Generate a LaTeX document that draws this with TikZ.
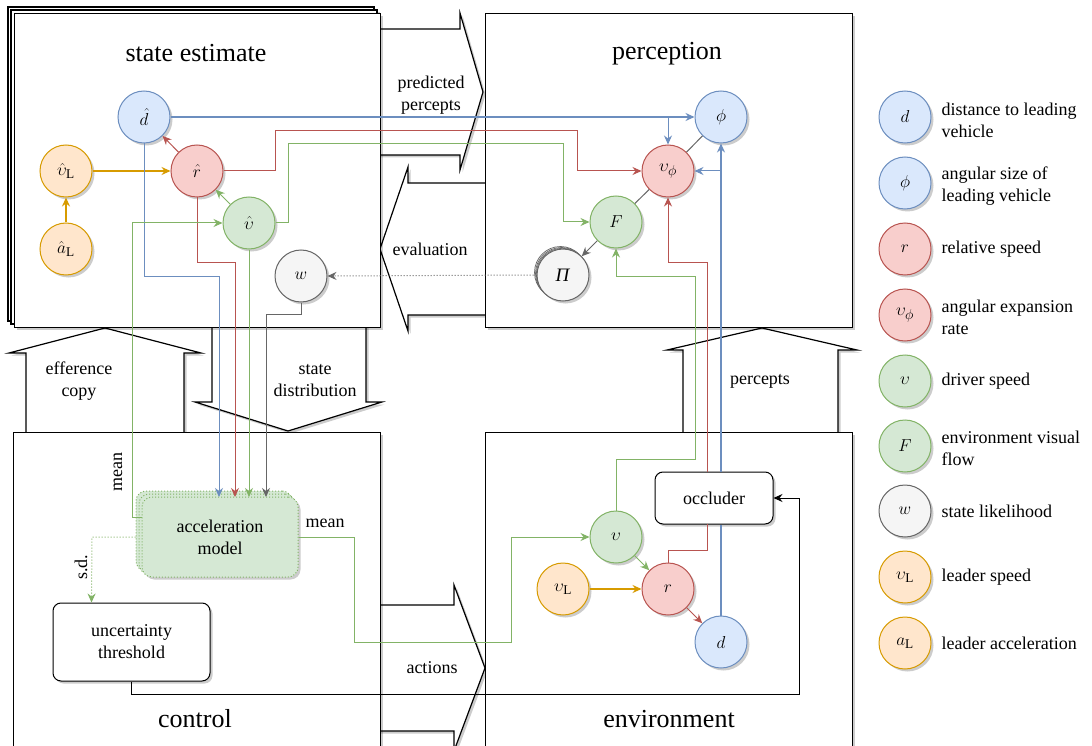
\documentclass[tikz,border=0pt]{standalone}
\usepackage{fontspec}
\setmainfont{Liberation Serif}
\usetikzlibrary{arrows.meta,shadows,calc}
\definecolor{bfill}{HTML}{DAE8FC}\definecolor{bline}{HTML}{6C8EBF}
\definecolor{rfill}{HTML}{F8CECC}\definecolor{rline}{HTML}{B85450}
\definecolor{gfill}{HTML}{D5E8D4}\definecolor{gline}{HTML}{82B366}
\definecolor{wfill}{HTML}{F5F5F5}\definecolor{wline}{HTML}{666666}
\definecolor{ofill}{HTML}{FFE6CC}\definecolor{oline}{HTML}{D79B00}
\begin{document}
\begin{tikzpicture}[x=1pt,y=-1pt,
 shad/.style={drop shadow={shadow xshift=2.5pt,shadow yshift=-2.5pt,fill=black,opacity=0.2}},
 var/.style={circle,minimum size=52pt,inner sep=0pt,line width=1pt,font=\fontsize{19}{22}\selectfont,shad},
 bvar/.style={var,draw=bline,fill=bfill},
 rvar/.style={var,draw=rline,fill=rfill},
 gvar/.style={var,draw=gline,fill=gfill},
 wvar/.style={var,draw=wline,fill=wfill},
 ovar/.style={var,draw=oline,fill=ofill},
 panel/.style={draw=black,fill=white,line width=1.2pt,shad},
 blockarrow/.style={draw=black,fill=white,line width=1.2pt,line join=miter,shad},
 lab/.style={font=\fontsize{18}{22}\selectfont,align=center},
 ttl/.style={font=\fontsize{26}{30}\selectfont},
 arr/.style={-{Stealth[length=9pt,width=8pt,inset=3pt]}},
 bl/.style={draw=bline,line width=1pt},
 rl/.style={draw=rline,line width=1pt},
 gl/.style={draw=gline,line width=1pt},
 kl/.style={draw=wline,line width=1pt},
 bthick/.style={draw=bline,line width=1.7pt},
 othick/.style={draw=oline,line width=2pt},
 rbox/.style={draw=black,fill=white,rounded corners=8pt,line width=1pt,align=center,font=\fontsize{18}{22}\selectfont,inner sep=0pt},
 accbox/.style={draw=gline,fill=gfill,dotted,rounded corners=10pt,line width=1pt,minimum width=156pt,minimum height=80pt,inner sep=0pt}
]
\useasboundingbox (0,0) rectangle (1092,746);
\fill[white] (0,0) rectangle (1092,746);

% block arrows
\draw[blockarrow] (340,29) -- (460,29) -- (460,13) -- (483,92) -- (460,170) -- (460,155) -- (340,155) -- cycle;
\draw[blockarrow] (500,183) -- (408,183) -- (408,167) -- (380,249) -- (408,331) -- (408,315) -- (500,315) -- cycle;
\draw[blockarrow] (26,440) -- (26,353) -- (9,353) -- (105,328) -- (201,353) -- (184,353) -- (184,440) -- cycle;
\draw[blockarrow] (212,320) -- (212,402) -- (195,402) -- (288,431) -- (382,402) -- (366,402) -- (366,320) -- cycle;
\draw[blockarrow] (370,605) -- (454,605) -- (454,585) -- (485,668) -- (454,751) -- (454,731) -- (370,731) -- cycle;
\draw[blockarrow] (683,440) -- (683,350) -- (667,350) -- (762,328) -- (857,350) -- (838,350) -- (838,440) -- cycle;

% panels
\draw[panel] (8,7) rectangle (374,321);
\draw[panel] (11,10) rectangle (377,324);
\node[panel,minimum width=366pt,minimum height=314pt,anchor=north west,inner sep=0pt] (se) at (14,13) {};
\node[panel,minimum width=367pt,minimum height=314pt,anchor=north west,inner sep=0pt] (pe) at (485,13) {};
\node[panel,minimum width=367pt,minimum height=340pt,anchor=north west,inner sep=0pt] (co) at (13,432) {};
\node[panel,minimum width=367pt,minimum height=340pt,anchor=north west,inner sep=0pt] (en) at (485,432) {};

% titles
\node[ttl] (t1) at (196,53) {state estimate};
\node[ttl] (t2) at (667,54) {perception};
\node[ttl] (t3) at (195,719) {control};
\node[ttl] (t4) at (669,719) {environment};

% block arrow labels
\node[lab] (a1) at (431,95) {predicted\\percepts};
\node[lab] (a2) at (430,249) {evaluation};
\node[lab] (a3) at (79,381) {efference\\copy};
\node[lab] (a4) at (315,381) {state\\distribution};
\node[lab] (a5) at (432,668) {actions};
\node[lab] (a6) at (760,381) {percepts};

% state estimate nodes
\node[bvar] (dh) at (144,117) {$\hat{d}$};
\node[ovar] (vLh) at (66,171) {$\hat{\upsilon}_{\mathrm{L}}$};
\node[ovar] (aLh) at (66,249) {$\hat{a}_{\mathrm{L}}$};
\node[rvar] (rh) at (197,171) {$\hat{r}$};
\node[gvar] (vh) at (249,223) {$\hat{\upsilon}$};
\node[wvar] (w) at (301,276) {$w$};

% perception nodes
\node[bvar] (phi) at (721,117) {$\phi$};
\node[rvar] (vphi) at (668,171) {$\upsilon_{\phi}$};
\node[gvar] (F) at (616,222) {$F$};
\draw[draw=wline,fill=wfill,line width=0.7pt] (560.5,272.5) circle (26pt);
\draw[draw=wline,fill=wfill,line width=0.7pt] (561.5,273.5) circle (26pt);
\draw[draw=wline,fill=wfill,line width=0.7pt] (562.3,274.3) circle (26pt);
\node[wvar] (Pi) at (563,275) {\textit{Π}};

% control nodes
\node[accbox] (accb2) at (214,531) {};
\node[accbox] (accb1) at (217,534) {};
\node[accbox,solid,draw=none,shad] (accsh) at (220,537) {};
\node[accbox,lab] (acc) at (220,537) {acceleration\\model};
\node[rbox,minimum width=157pt,minimum height=78pt,shad] (thr) at (131.5,642) {uncertainty\\threshold};

% environment nodes
\node[rbox,minimum width=118pt,minimum height=52pt,shad] (occ) at (714,498) {occluder};
\node[gvar] (v) at (616,537) {$\upsilon$};
\node[ovar] (vL) at (563,589) {$\upsilon_{\mathrm{L}}$};
\node[rvar] (r) at (668,589) {$r$};
\node[bvar] (d) at (721,642) {$d$};

% connectors: state estimate
\draw[othick,arr] (aLh) -- (vLh);
\draw[othick,arr] (vLh) -- (rh);
\draw[rl,arr] (rh) -- (dh);
\draw[gl,arr] (vh) -- (rh);
\draw[bthick,arr] (dh) -- (phi);
\draw[bl,arr] (vphi |- dh) -- (vphi);
\draw[rl,arr] (rh.east) -- (275,171) -- (275,131) -- (577,131) -- (577,171) -- (vphi.west);
\draw[gl,arr] (vh.east) -- (288,223) -- (288,144) -- (563,144) -- (563,222) -- (F.west);
\draw[kl] (phi) -- (vphi);
\draw[kl] (vphi) -- (F);
\draw[kl,arr] (F) -- (Pi);
\draw[kl,dotted,arr] (Pi.west) -- (w.east);

% to acceleration model
\draw[bl,arr] (dh.south) -- (144,276) -- (219,276) -- (219,497);
\draw[rl,arr] (rh.south) -- (197,262) -- (235,262) -- (235,497);
\draw[gl,arr] (vh.south) -- (249,497);
\draw[kl,arr] (w.south) -- (301,314) -- (266,314) -- (266,497);

% from acceleration model
\draw[gl,arr] ($(acc.west)+(0,-20)$) -- (132,517) -- (132,223) -- (vh.west);
\node[lab,rotate=90] (m1) at (118,472) {mean};
\draw[gl,dotted,arr] ($(acc.west)+(-6,0)$) -- (92,537) -- ($(thr.north west)+(39,0)$);
\node[lab,rotate=90] (sd) at (81,567) {s.d.};
\draw[gl,arr] (acc.east) -- (354,537) -- (354,642) -- (511,642) -- (511,537) -- (v.west);
\node[lab] (m2) at (325,523) {mean};
\draw[draw=black,line width=1pt,arr] (thr.south) -- (131.5,694) -- (799,694) -- (799,498) -- (occ.east);

% environment connectors
\draw[othick,arr] (vL) -- (r);
\draw[gl,arr] (v) -- (r);
\draw[rl,arr] (r) -- (d);
\draw[bthick] (d.north) -- (d |- occ.south);
\draw[bthick,arr] (d |- occ.north) -- (phi.south);
\draw[bl,arr] (phi |- vphi) -- (vphi.east);
\draw[rl] (r.north) -- (668,550) -- (707,550) -- (707,524);
\draw[rl,arr] (707,472) -- (707,262) -- (668,262) -- (vphi.south);
\draw[gl,arr] (v.north) -- (616,459) -- (695,459) -- (695,276) -- (616,276) -- (F.south);

% legend
\node[bvar] (l1) at (905,117) {$d$};
\node[lab,align=left,anchor=west] (lt1) at (938,120) {distance to leading\\vehicle};
\node[bvar] (l2) at (905,183) {$\phi$};
\node[lab,align=left,anchor=west] (lt2) at (938,186) {angular size of\\leading vehicle};
\node[rvar] (l3) at (905,249) {$r$};
\node[lab,align=left,anchor=west] (lt3) at (938,249) {relative speed};
\node[rvar] (l4) at (905,315) {$\upsilon_{\phi}$};
\node[lab,align=left,anchor=west] (lt4) at (938,317) {angular expansion\\rate};
\node[gvar] (l5) at (905,381) {$\upsilon$};
\node[lab,align=left,anchor=west] (lt5) at (938,381) {driver speed};
\node[gvar] (l6) at (905,446) {$F$};
\node[lab,align=left,anchor=west] (lt6) at (938,448) {environment visual\\flow};
\node[wvar] (l7) at (905,511) {$w$};
\node[lab,align=left,anchor=west] (lt7) at (938,511) {state likelihood};
\node[ovar] (l8) at (905,577) {$\upsilon_{\mathrm{L}}$};
\node[lab,align=left,anchor=west] (lt8) at (938,577) {leader speed};
\node[ovar] (l9) at (905,643) {$a_{\mathrm{L}}$};
\node[lab,align=left,anchor=west] (lt9) at (938,643) {leader acceleration};
\end{tikzpicture}
\end{document}
